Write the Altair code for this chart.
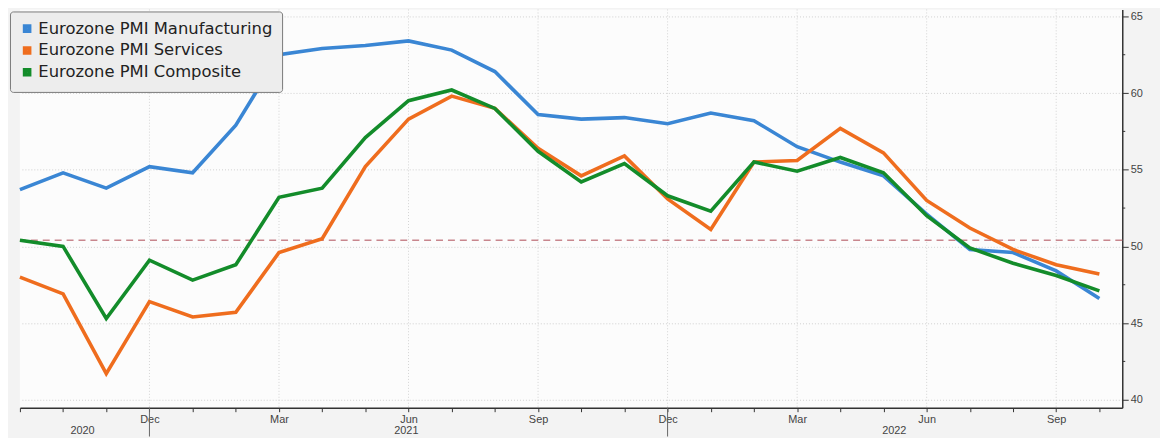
import altair as alt
import pandas as pd

months = ["2020-09", "2020-10", "2020-11", "2020-12", "2021-01", "2021-02", "2021-03",
          "2021-04", "2021-05", "2021-06", "2021-07", "2021-08", "2021-09", "2021-10",
          "2021-11", "2021-12", "2022-01", "2022-02", "2022-03", "2022-04", "2022-05",
          "2022-06", "2022-07", "2022-08", "2022-09", "2022-10"]
manufacturing = [53.7, 54.8, 53.8, 55.2, 54.8, 57.9, 62.5, 62.9, 63.1, 63.4, 62.8, 61.4, 58.6,
                 58.3, 58.4, 58.0, 58.7, 58.2, 56.5, 55.5, 54.6, 52.1, 49.8, 49.6, 48.4, 46.6]
services = [48.0, 46.9, 41.7, 46.4, 45.4, 45.7, 49.6, 50.5, 55.2, 58.3, 59.8, 59.0, 56.4,
            54.6, 55.9, 53.1, 51.1, 55.5, 55.6, 57.7, 56.1, 53.0, 51.2, 49.8, 48.8, 48.2]
composite = [50.4, 50.0, 45.3, 49.1, 47.8, 48.8, 53.2, 53.8, 57.1, 59.5, 60.2, 59.0, 56.2,
             54.2, 55.4, 53.3, 52.3, 55.5, 54.9, 55.8, 54.8, 52.0, 49.9, 48.9, 48.1, 47.1]
series_names = ["Eurozone PMI Manufacturing", "Eurozone PMI Services", "Eurozone PMI Composite"]
series_colors = ["#3a86d4", "#ef6d1e", "#138c2a"]

tick_months = ["2020-12", "2021-03", "2021-06", "2021-09", "2021-12", "2022-03", "2022-06", "2022-09"]
tick_labels = ["Dec", "Mar", "Jun", "Sep", "Dec", "Mar", "Jun", "Sep"]
year_labels = ["2020", "2021", "2022"]
year_label_pos = [1.45, 8.95, 20.25]
year_sep_months = ["2020-12", "2021-12"]
y_major = [40, 45, 50, 55, 60, 65]
y_minor = [42.5, 47.5, 52.5, 57.5, 62.5]
threshold = [50.4]

idx = {m: i for i, m in enumerate(months)}

rows = []
for name, vals in zip(series_names, [manufacturing, services, composite]):
    for m, v in zip(months, vals):
        rows.append({"t": idx[m], "value": v, "series": name})
df = pd.DataFrame(rows)

label_arr = [""] * len(months)
for m, lab in zip(tick_months, tick_labels):
    label_arr[idx[m]] = lab
label_expr = "[" + ",".join("'%s'" % s for s in label_arr) + "][datum.value]"

xscale = alt.Scale(domain=[0, 25.53], nice=False, zero=False)
yscale = alt.Scale(domain=[39.48, 65.45], nice=False, zero=False)

xaxis = alt.Axis(values=list(range(len(months))), labelExpr=label_expr, title=None,
                 grid=False, tickSize=4, tickColor="#333", domainColor="#333",
                 domainWidth=1.5, labelFontSize=11, labelColor="#444",
                 labelFont="Liberation Sans", labelPadding=2, labelOverlap=False,
                 labelFlush=False)
yaxis = alt.Axis(orient="right", values=y_major, title=None, grid=True,
                 gridColor="#d0d0d0", gridDash=[1, 2], tickSize=6, tickColor="#333",
                 domainColor="#333", domainWidth=1.5, labelFontSize=11,
                 labelColor="#444", labelFont="Liberation Sans", labelPadding=2)

vgrid = alt.Chart(pd.DataFrame({"t": [idx[m] for m in tick_months]})).mark_rule(
    color="#d4d4d4", strokeDash=[1, 2], strokeWidth=1
).encode(x=alt.X("t:Q", scale=xscale, axis=xaxis))

thr = alt.Chart(pd.DataFrame({"v": threshold})).mark_rule(
    color="#c8868d", strokeDash=[7, 5], strokeWidth=1.6
).encode(y=alt.Y("v:Q", scale=yscale, axis=yaxis))

lines = alt.Chart(df).mark_line(strokeWidth=3.6).encode(
    x=alt.X("t:Q", scale=xscale, axis=xaxis),
    y=alt.Y("value:Q", scale=yscale, axis=yaxis),
    color=alt.Color("series:N", sort=series_names,
                    scale=alt.Scale(domain=series_names, range=series_colors),
                    legend=alt.Legend(title=None, symbolType="square", symbolSize=20,
                                      symbolStrokeWidth=4.2)),
)

minor = alt.Chart(pd.DataFrame({"v": y_minor})).mark_rule(color="#333", strokeWidth=1).encode(
    y=alt.Y("v:Q", scale=yscale, axis=yaxis), x=alt.value(1110), x2=alt.value(1113)
)

yearsep = alt.Chart(pd.DataFrame({"t": [idx[m] for m in year_sep_months]})).mark_rule(
    color="#666", strokeWidth=1
).encode(x=alt.X("t:Q", scale=xscale, axis=xaxis), y=alt.value(401), y2=alt.value(430))

years = alt.Chart(pd.DataFrame({"t": year_label_pos, "lab": year_labels})).mark_text(
    fontSize=11, color="#444", font="Liberation Sans", baseline="middle", align="center"
).encode(x=alt.X("t:Q", scale=xscale, axis=xaxis), y=alt.value(424), text="lab:N")

chart = alt.layer(vgrid, thr, lines, minor, yearsep, years).properties(
    width=1110, height=401,
    autosize=alt.AutoSizeParams(type="none"),
    padding={"left": 12, "top": 0, "right": 38, "bottom": 29},
    background="#f3f3f3",
).configure_view(fill="#fcfcfc", stroke=None).configure_legend(
    orient="none", legendX=-10, legendY=2, fillColor="#ededed", strokeColor="#7a7a7a",
    cornerRadius=3, padding=9, labelFont="DejaVu Sans", labelFontSize=16.5,
    labelColor="#222", rowPadding=0, labelLimit=400, labelOffset=3
)

chart.save("out.html", embed_options={"renderer": "svg", "actions": False})
